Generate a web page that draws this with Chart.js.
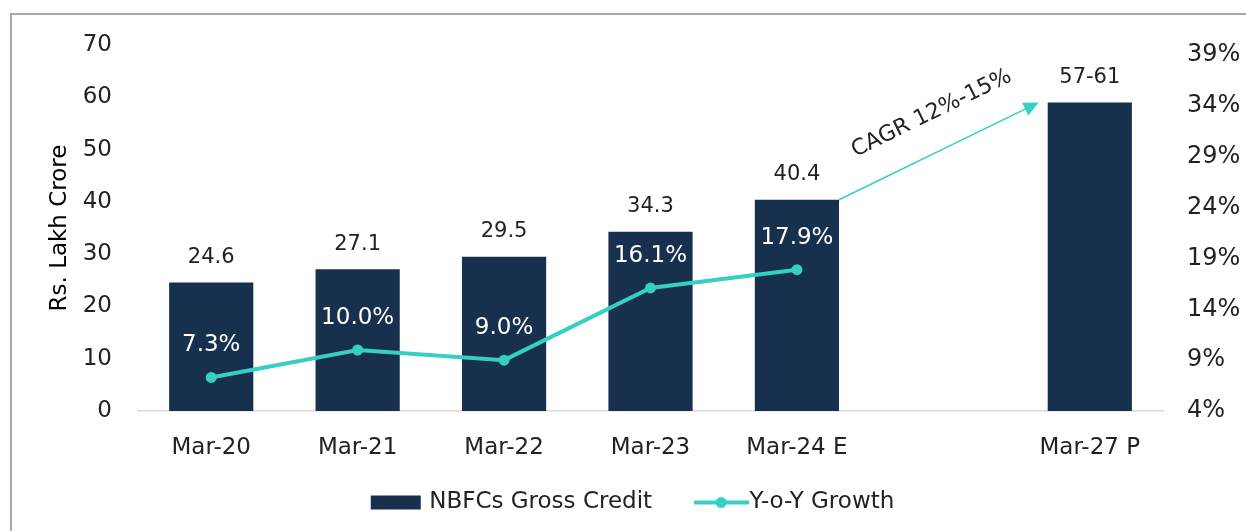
<!DOCTYPE html>
<html>
<head>
<meta charset="utf-8">
<script src="https://cdn.jsdelivr.net/npm/chart.js@4.4.1/dist/chart.umd.min.js"></script>
<style>
  html, body { margin: 0; padding: 0; background: #fff; }
  #wrap { position: relative; width: 1246px; height: 531px; overflow: hidden; }
  #frame { position: absolute; left: 10px; top: 13px; width: 1300px; height: 600px; border: 2px solid #a9a9a9; }
  #chart { position: absolute; left: 0; top: 0; }
</style>
</head>
<body>
<div id="wrap">
  <div id="frame"></div>
  <canvas id="chart" width="1246" height="531"></canvas>
</div>
<script>
// --- data ---
const categories = ['Mar-20', 'Mar-21', 'Mar-22', 'Mar-23', 'Mar-24 E', '', 'Mar-27 P'];
const grossCredit = [24.6, 27.1, 29.5, 34.3, 40.4, null, 59];
const creditLabels = ['24.6', '27.1', '29.5', '34.3', '40.4', '', '57-61'];
const yoyGrowth = [7.3, 10.0, 9.0, 16.1, 17.9, null, null];
const leftTicks = [0, 10, 20, 30, 40, 50, 60, 70];
const rightTicks = [4, 9, 14, 19, 24, 29, 34, 39];
const cagrText = 'CAGR 12%-15%';

const NAVY = '#17304d';
const TEAL = '#35cfc3';
const INK = '#222222';
const FONT = "'DejaVu Sans', Tahoma, sans-serif";

// legend swatches (drawn as point-style images)
function swatch(draw) {
    const c = document.createElement('canvas');
    c.width = 88; c.height = 16;
    draw(c.getContext('2d'));
    return c;
}
const barSwatch = swatch(g => {
    g.fillStyle = NAVY;
    g.fillRect(30, 1, 50, 14);
});
const lineSwatch = swatch(g => {
    g.strokeStyle = TEAL; g.lineWidth = 4;
    g.beginPath(); g.moveTo(33, 8); g.lineTo(88, 8); g.stroke();
    g.fillStyle = TEAL;
    g.beginPath(); g.arc(60, 8, 5.5, 0, Math.PI * 2); g.fill();
});

// value labels above bars / over line points
const valueLabels = {
    id: 'valueLabels',
    afterDatasetsDraw(chart) {
        const ctx = chart.ctx;
        ctx.save();
        ctx.textAlign = 'center';
        ctx.textBaseline = 'middle';

        ctx.font = '21px ' + FONT;
        ctx.fillStyle = INK;
        chart.getDatasetMeta(0).data.forEach((bar, i) => {
            if (grossCredit[i] == null) return;
            ctx.fillText(creditLabels[i], bar.x, bar.y - 25);
        });

        ctx.font = '23px ' + FONT;
        ctx.fillStyle = '#ffffff';
        chart.getDatasetMeta(1).data.forEach((pt, i) => {
            if (yoyGrowth[i] == null) return;
            ctx.fillText(yoyGrowth[i].toFixed(1) + '%', pt.x, pt.y - 32);
        });
        ctx.restore();
    }
};

// CAGR arrow from Mar-24 E bar to Mar-27 P bar
const cagrArrow = {
    id: 'cagrArrow',
    afterDatasetsDraw(chart) {
        const bars = chart.getDatasetMeta(0).data;
        const a = bars[4], b = bars[6];
        const x1 = a.x + a.width / 2, y1 = a.y;
        const x2 = b.x - b.width / 2 - 9, y2 = b.y;
        const len = Math.hypot(x2 - x1, y2 - y1);
        const dx = (x2 - x1) / len, dy = (y2 - y1) / len;
        const ctx = chart.ctx;
        ctx.save();
        ctx.strokeStyle = TEAL;
        ctx.fillStyle = TEAL;
        ctx.lineWidth = 1.5;
        ctx.beginPath();
        ctx.moveTo(x1, y1);
        ctx.lineTo(x2 - dx * 10, y2 - dy * 10);
        ctx.stroke();
        // head
        const hl = 15, hw = 7;
        ctx.beginPath();
        ctx.moveTo(x2, y2);
        ctx.lineTo(x2 - dx * hl - dy * hw, y2 - dy * hl + dx * hw);
        ctx.lineTo(x2 - dx * hl + dy * hw, y2 - dy * hl - dx * hw);
        ctx.closePath();
        ctx.fill();
        // text along the arrow
        const mx = (x1 + x2) / 2, my = (y1 + y2) / 2;
        const nx = dy, ny = -dx;
        ctx.translate(mx + nx * 37 + dx * 10, my + ny * 37 + dy * 10);
        ctx.rotate(Math.atan2(dy, dx));
        ctx.font = '22px ' + FONT;
        ctx.fillStyle = INK;
        ctx.textAlign = 'center';
        ctx.textBaseline = 'middle';
        ctx.fillText(cagrText, 0, 0);
        ctx.restore();
    }
};

const chart = new Chart(document.getElementById('chart'), {
    data: {
        labels: categories,
        datasets: [{
            type: 'bar',
            label: 'NBFCs Gross Credit',
            data: grossCredit,
            backgroundColor: NAVY,
            barPercentage: 0.575,
            categoryPercentage: 1,
            yAxisID: 'y',
            order: 2
        }, {
            type: 'line',
            label: 'Y-o-Y Growth',
            data: yoyGrowth,
            borderColor: TEAL,
            backgroundColor: TEAL,
            borderWidth: 4,
            pointRadius: 5.5,
            pointBackgroundColor: TEAL,
            pointBorderWidth: 0,
            tension: 0,
            spanGaps: false,
            yAxisID: 'y1',
            order: 1
        }]
    },
    options: {
        responsive: false,
        animation: false,
        layout: { padding: { top: 45, bottom: 7, left: 0, right: 0 } },
        scales: {
            x: {
                grid: { display: false, drawTicks: false },
                border: { display: true, color: '#d9d9d9', width: 1.5 },
                ticks: { color: INK, font: { size: 23, family: FONT }, padding: 23, maxRotation: 0, autoSkip: false },
                afterFit: s => { s.height = 60; }
            },
            y: {
                position: 'left',
                min: 0, max: 70,
                grid: { display: false, drawTicks: false },
                border: { display: false },
                ticks: { color: INK, font: { size: 23, family: FONT }, padding: 26 },
                afterBuildTicks: s => { s.ticks = leftTicks.map(v => ({ value: v })); },
                title: { display: true, text: 'Rs. Lakh Crore', color: '#000', font: { size: 23, family: FONT }, padding: { top: 46, bottom: 0 } },
                afterFit: s => { s.width = 138; }
            },
            y1: {
                position: 'right',
                min: 4, max: 40,
                grid: { display: false, drawTicks: false },
                border: { display: false },
                ticks: { color: INK, font: { size: 24, family: FONT }, padding: 24, callback: v => v + '%' },
                afterBuildTicks: s => { s.ticks = rightTicks.map(v => ({ value: v })); },
                afterFit: s => { s.width = 83; }
            }
        },
        plugins: {
            legend: {
                position: 'bottom',
                labels: {
                    usePointStyle: true,
                    pointStyleWidth: 66,
                    padding: 20,
                    color: INK,
                    font: { size: 23, family: FONT },
                    generateLabels: ch => ch.data.datasets.map((ds, i) => ({
                        text: ds.label,
                        pointStyle: i === 0 ? barSwatch : lineSwatch,
                        fillStyle: 'rgba(0,0,0,0)',
                        strokeStyle: 'rgba(0,0,0,0)',
                        lineWidth: 0,
                        fontColor: INK,
                        hidden: false,
                        datasetIndex: i
                    }))
                }
            },
            tooltip: { enabled: false }
        }
    },
    plugins: [valueLabels, cagrArrow]
});
</script>
</body>
</html>
